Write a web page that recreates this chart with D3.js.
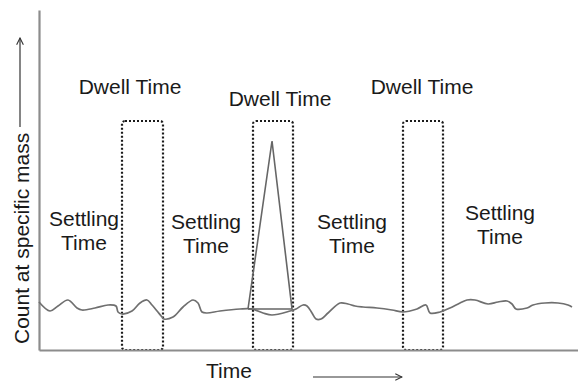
<!DOCTYPE html>
<html><head><meta charset="utf-8">
<script src="https://cdn.jsdelivr.net/npm/d3@7"></script>
<style>
html,body{margin:0;padding:0;background:#fff;}
svg{display:block;font-family:"Liberation Sans",Arial,sans-serif;}
</style></head>
<body>
<svg id="chart" width="578" height="382"></svg>
<script>
// ---- data (arbitrary time / count units) ----
const noiseTime  = [0,11,19,29,38,43,56,69,77,79,83,93,101,108,113,123,125,134,144,154,159,163,168,181,201,213,224,233,251,257,264,268,273,277,282,289,301,309,316,324,338,353,364,378,387,391,401,411,421,428,436,449,459,468,473,477,488,494,506,519,529,533];
const noiseCount = [48,39,44,50,42,40,42,45,44,38,36,39,47,50,45,33,31,33,43,50,47,38,37,39,41,41,37,35,39,41,45,44,37,31,31,37,47,46,44,43,42,40,38,41,45,37,38,42,47,50,50,46,48,49,46,41,42,45,47,47,45,43];
const peakTime   = [209,233,253,209];
const peakCount  = [41,209,41,41];
const dwellStart = [83,214,364];
const dwellEnd   = [124,254,404];
const dwellTop   = 229;
const dwellLabels = ["Dwell Time","Dwell Time","Dwell Time"];
const settlingLabels = [["Settling","Time"],["Settling","Time"],["Settling","Time"],["Settling","Time"]];
const xTitle = "Time";
const yTitle = "Count at specific mass";

// ---- layout ----
const svg = d3.select("#chart");
const x = d3.scaleLinear().domain([0,540]).range([39,579]);
const y = d3.scaleLinear().domain([0,340]).range([350,10]);

// dotted dwell boxes
svg.append("g").selectAll("rect").data(dwellStart).join("rect")
  .attr("x",(d)=>x(d)).attr("y",y(dwellTop))
  .attr("width",(d,i)=>x(dwellEnd[i])-x(d))
  .attr("height",y(0)-y(dwellTop))
  .attr("rx",3).attr("ry",3)
  .attr("fill","none").attr("stroke","#1a1a1a")
  .attr("stroke-width",2.2).attr("stroke-dasharray","2,2");

// axes
const axisColor = "#8c8c8c";
const xAxis = d3.axisBottom(x).tickValues([]).tickSizeOuter(0);
const yAxis = d3.axisLeft(y).tickValues([]).tickSizeOuter(0);
svg.append("g").attr("transform",`translate(0,${y(0)})`).call(xAxis)
  .select(".domain").attr("stroke",axisColor).attr("stroke-width",2.2);
svg.append("g").attr("transform",`translate(${x(0)},0)`).call(yAxis)
  .select(".domain").attr("stroke",axisColor).attr("stroke-width",2.2);

// noise trace
const line = d3.line().x(d=>x(d[0])).y(d=>y(d[1])).curve(d3.curveCatmullRom.alpha(0.5));
svg.append("path").datum(noiseTime.map((t,i)=>[t,noiseCount[i]]))
  .attr("d",line).attr("fill","none").attr("stroke","#6f6f6f").attr("stroke-width",1.7);

// peak
const pline = d3.line().x(d=>x(d[0])).y(d=>y(d[1]));
svg.append("path").datum(peakTime.map((t,i)=>[t,peakCount[i]]))
  .attr("d",pline).attr("fill","none").attr("stroke","#666").attr("stroke-width",1.6)
  .attr("stroke-linejoin","miter");

// labels
const txt = svg.append("g").attr("fill","#1a1a1a").attr("font-size",21).attr("text-anchor","middle");
const dwellPos = [[130,94],[280,106],[422,94]];
dwellLabels.forEach((s,i)=>txt.append("text").attr("x",dwellPos[i][0]).attr("y",dwellPos[i][1]).text(s));
const settlePos = [[84,226],[206,229],[352,229],[500,220]];
settlingLabels.forEach((ls,i)=>{
  ls.forEach((s,j)=>txt.append("text").attr("x",settlePos[i][0]).attr("y",settlePos[i][1]+j*24).text(s));
});
txt.append("text").attr("x",229).attr("y",378).text(xTitle);
txt.append("text").attr("transform","translate(29,344) rotate(-90)").attr("text-anchor","start").text(yTitle);

// arrows
const defs = svg.append("defs");
defs.append("marker").attr("id","ah").attr("viewBox","0 0 10 10").attr("refX",9).attr("refY",5)
  .attr("markerWidth",7).attr("markerHeight",7).attr("orient","auto")
  .append("path").attr("d","M1,1 L9,5 L1,9").attr("fill","none").attr("stroke","#333").attr("stroke-width",1.3);
svg.append("line").attr("x1",313).attr("y1",377).attr("x2",402).attr("y2",377)
  .attr("stroke","#333").attr("stroke-width",1.2).attr("marker-end","url(#ah)");
svg.append("line").attr("x1",20).attr("y1",127).attr("x2",20).attr("y2",38)
  .attr("stroke","#333").attr("stroke-width",1.2).attr("marker-end","url(#ah)");
</script>
</body></html>
